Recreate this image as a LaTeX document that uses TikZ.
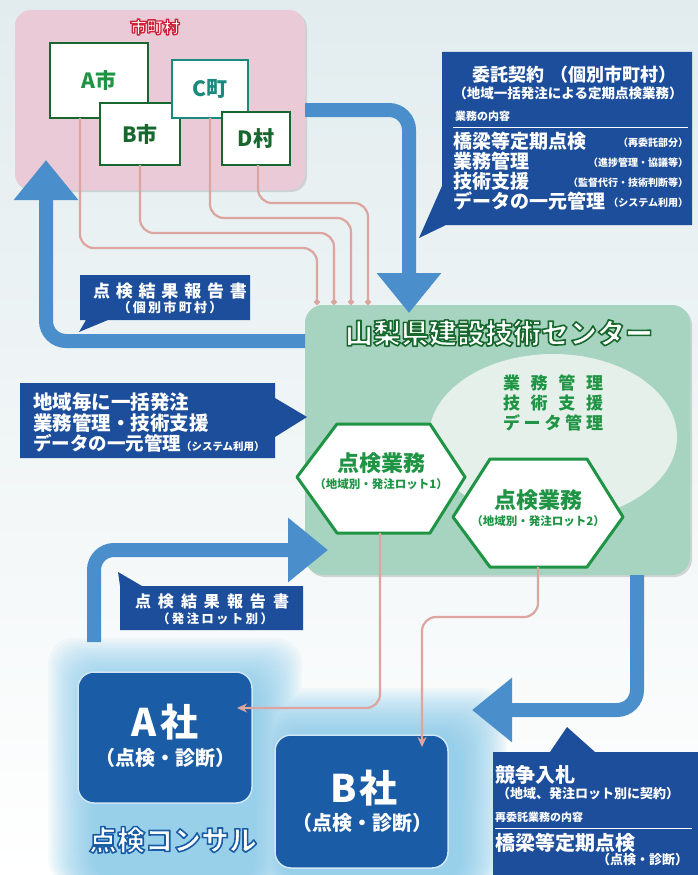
\documentclass[tikz,border=0pt]{standalone}
\usepackage{fontspec}
\setmainfont{Noto Sans CJK JP}
\usetikzlibrary{arrows.meta,shadows,calc}
\definecolor{bgtop}{HTML}{E2ECEE}
\definecolor{pinkbox}{HTML}{EACAD6}
\definecolor{grn}{HTML}{1F9444}
\definecolor{dgrn}{HTML}{17682F}
\definecolor{tealc}{HTML}{1B8A7E}
\definecolor{arrowblue}{HTML}{4A8FCC}
\definecolor{navy}{HTML}{1D4E9B}
\definecolor{ctrgreen}{HTML}{A7D4C1}
\definecolor{ellfill}{HTML}{E4F0E9}
\definecolor{pinkline}{HTML}{DCA59F}
\definecolor{compblue}{HTML}{1A5CA6}
\definecolor{compedge}{HTML}{CFE6F4}
\definecolor{glow}{HTML}{7CC6EA}
\definecolor{munired}{HTML}{D0203A}
\newcommand\fsz[1]{\fontsize{#1}{#1}\selectfont}
% outlined text: #1 stroke width, #2 stroke rgb values, #3 text
\newcommand\olt[3]{{\color{white}\special{pdf:literal direct #1 w 1 j #2 RG 2 Tr}#3\special{pdf:literal direct 0 Tr}}}
\makeatletter
\newcommand\spreadchars[2]{\makebox[#1][s]{\sc@loop#2\@nil}}
\def\sc@loop#1#2\@nil{#1\ifx\relax#2\relax\else\hfil\sc@loop#2\@nil\fi}
\makeatother
\begin{document}
\begin{tikzpicture}[x=1pt,y=-1pt,
  every node/.style={inner sep=0pt, outer sep=0pt},
  tsize/.style={font=\bfseries\fsz{#1}},
  munibox/.style={draw=dgrn, line width=2.6pt, fill=white, tsize=21, text=dgrn},
  bigarrow/.style={draw=arrowblue, line width=14pt, rounded corners=20pt, -{Triangle[length=40pt,width=62pt]}},
  pinkln/.style={draw=pinkline, line width=2.2pt, rounded corners=14pt},
  callout/.style={fill=navy},
  ctext/.style={text=white, tsize=#1},
  hexshape/.style={fill=white, draw=grn, line width=3pt, line join=round},
  company/.style={fill=compblue, draw=compedge, line width=1.5pt, rounded corners=16pt},
]
\useasboundingbox (0,0) rectangle (698,875);
\shade[top color=bgtop, bottom color=white] (0,0) rectangle (698,875);

% glow behind the consultants
\foreach \i in {0,...,19}{
  \fill[glow, opacity=0.065, rounded corners=26pt]
    (48+\i*2.5, 638+\i*2.5) rectangle (302-\i*2.5, 885)
    (238+\i*2.5, 688+\i*2.5) rectangle (507-\i*2.5, 885);
}

% municipalities
\node[fill=pinkbox, rounded corners=16pt, minimum width=290pt, minimum height=180pt,
      drop shadow={opacity=0.25, shadow xshift=2pt, shadow yshift=-2pt}] (muni) at (160,100) {};
\node[tsize=16.5] (munit) at (155,27) {\olt{1.3}{0.82 0.13 0.23}{市町村}};
\node[munibox, minimum width=98pt, minimum height=75pt, text=grn] (A) at (99,80.5) {A市};
\node[munibox, minimum width=80pt, minimum height=62pt] (B) at (140,134) {B市};
\node[munibox, draw=tealc, minimum width=76pt, minimum height=58pt, text=tealc] (C) at (210,89) {C町};
\node[munibox, minimum width=68pt, minimum height=53pt] (D) at (256,138.5) {D村};

% centre
\node[fill=ctrgreen, rounded corners=18pt, minimum width=385pt, minimum height=270pt,
      drop shadow={opacity=0.3, shadow xshift=2pt, shadow yshift=-2pt}] (ctr) at (497.5,440) {};
\fill[ellfill] (553,437) ellipse [x radius=124, y radius=83];
\node[tsize=28] (ctrt) at (499,333) {\olt{1.6}{0.09 0.41 0.18}{山梨県建設技術センター}};
\node[text=grn, align=center, font=\bfseries\fontsize{17}{20}\selectfont] (mgmt) at (553,403)
  {\spreadchars{100pt}{業務管理}\\\spreadchars{100pt}{技術支援}\\\spreadchars{100pt}{データ管理}};

\filldraw[hexshape] (297,477) -- (337,424) -- (430,424) -- (465,477) -- (430,533) -- (337,533) -- cycle;
\node[tsize=22, text=grn] (hex1) at (381,463) {点検業務};
\node[tsize=11.5, text=grn] (hex1s) at (381,484) {（地域別・発注ロット1）};
\filldraw[hexshape] (453,517) -- (490,459) -- (587,459) -- (623,517) -- (587,567) -- (490,567) -- cycle;
\node[tsize=22, text=grn] (hex2) at (538,500) {点検業務};
\node[tsize=11.5, text=grn] (hex2s) at (538,521) {（地域別・発注ロット2）};

% pink report lines municipalities -> centre
\coordinate (la) at (80,0);  \coordinate (ea) at (317,0);
\coordinate (lb) at (140,0); \coordinate (eb) at (334,0);
\coordinate (lc) at (210,0); \coordinate (ec) at (351,0);
\coordinate (ld) at (258,0); \coordinate (ed) at (368,0);
\draw[pinkln, -{Circle[length=6pt]}] (A.south -| la) -- (80,248) -- (317,248) -- (ctr.north -| ea);
\draw[pinkln, -{Circle[length=6pt]}] (B.south -| lb) -- (140,233) -- (334,233) -- (ctr.north -| eb);
\draw[pinkln, -{Circle[length=6pt]}] (C.south -| lc) -- (210,218) -- (351,218) -- (ctr.north -| ec);
\draw[pinkln, -{Circle[length=6pt]}] (D.south -| ld) -- (258,203) -- (368,203) -- (ctr.north -| ed);

% blue arrows
\coordinate (ta) at (409,0);
\coordinate (ya) at (0,110);
\draw[bigarrow, shorten >=-8pt] (muni.east |- ya) -- (409,110) -- (ctr.north -| ta);
\coordinate (yb) at (0,341);
\coordinate (tb) at (46,0);
\draw[bigarrow, shorten >=-30pt] (ctr.west |- yb) -- (46,341) -- (muni.south -| tb);
\coordinate (sc) at (94,642);
\coordinate (yc) at (0,550);
\draw[bigarrow, shorten >=-23pt] (sc) -- (94,550) -- (ctr.west |- yc);
\coordinate (td) at (637,0);
\coordinate (ed2) at (472,710);
\draw[bigarrow] (ctr.south -| td) -- (637,710) -- (ed2);

% callout: contract
\fill[callout] (442,52) -- (692,52) -- (692,225) -- (446,225) -- (419,238) -- (442,186) -- cycle;
\node[ctext=18] (c1t) at (574,75) {委託契約\hspace{6pt}（個別市町村）};
\node[ctext=13.5] (c1s) at (568,93) {（地域一括発注による定期点検業務）};
\node[ctext=11, anchor=west] (c1h) at (455,116) {業務の内容};
\draw[white, line width=1pt] (453,127) -- (688,127);
\node[ctext=19, anchor=west] (r1) at (453,141) {橋梁等定期点検};
\node[ctext=10, anchor=east] (r1s) at (688,143) {（再委託部分）};
\node[ctext=19, anchor=west] (r2) at (453,161) {業務管理};
\node[ctext=10, anchor=east] (r2s) at (688,163) {（進捗管理・協議等）};
\node[ctext=19, anchor=west] (r3) at (453,181) {技術支援};
\node[ctext=10, anchor=east] (r3s) at (688,183) {（監督代行・技術判断等）};
\node[ctext=19, anchor=west] (r4) at (453,201) {データの一元管理};
\node[ctext=10, anchor=east] (r4s) at (688,203) {（システム利用）};

% callout: report to municipalities
\fill[callout] (80,275) -- (250,275) -- (250,320) -- (108,320) -- (79,332) -- (86,320) -- (80,320) -- cycle;
\node[ctext=17] (rep1) at (170,291) {\spreadchars{154pt}{点検結果報告書}};
\node[ctext=13] (rep1s) at (170,308) {\spreadchars{105pt}{（個別市町村）}};

% callout: regional ordering
\fill[callout] (20,383) -- (275,383) -- (275,398) -- (307,417) -- (275,437) -- (275,458) -- (20,458) -- cycle;
\node[ctext=19.5, anchor=west] (g1) at (33,402) {地域毎に一括発注};
\node[ctext=19.5, anchor=west] (g2) at (33,423) {業務管理・技術支援};
\node[ctext=18.5, anchor=west] (g3) at (33,443) {データの一元管理{\fsz{10.5}（システム利用）}};

% callout: report by lot
\fill[callout] (118,572) -- (142,586) -- (303,586) -- (303,630) -- (120,630) -- (120,586) -- cycle;
\node[ctext=16] (rep2) at (212,601) {\spreadchars{154pt}{点検結果報告書}};
\node[ctext=12.5] (rep2s) at (215,619) {\spreadchars{116pt}{（発注ロット別）}};

% consultants
\node[company, minimum width=174pt, minimum height=131pt] (coA) at (165,737.5) {};
\node[ctext=38] (coAt) at (165,722) {A\hspace{3pt}社};
\node[ctext=20] (coAs) at (165,758) {（点検・診断）};
\node[company, minimum width=173pt, minimum height=133pt] (coB) at (361.5,801.5) {};
\node[ctext=38] (coBt) at (364,788) {B\hspace{3pt}社};
\node[ctext=20] (coBs) at (362,823) {（点検・診断）};
\node[tsize=28] (consul) at (173,840) {\olt{1.6}{0.10 0.36 0.65}{点検コンサル}};

% pink lines centre -> consultants
\coordinate (h1b) at (380,533);
\coordinate (y1) at (0,708);
\draw[pinkln, shorten >=-15pt, -{Stealth[length=10pt,width=9pt]}] (h1b) -- (380,708) -- (coA.east |- y1);
\coordinate (h2b) at (538,567);
\coordinate (x2) at (422,0);
\draw[pinkln, shorten >=-12pt, -{Stealth[length=10pt,width=9pt]}] (h2b) -- (538,617) -- (422,617) -- (coB.north -| x2);

% callout: competitive bidding
\fill[callout] (493,752) -- (550,752) -- (567,727) -- (595,752) -- (698,752) -- (698,875) -- (493,875) -- cycle;
\node[ctext=20, anchor=west] (b1) at (495,775) {競争入札};
\node[ctext=13, anchor=west] (b2) at (497,794) {（地域、発注ロット別に契約）};
\node[ctext=11, anchor=west] (b3) at (495,817) {再委託業務の内容};
\draw[white, line width=1pt] (495,828) -- (692,828);
\node[ctext=20, anchor=west] (b4) at (495,843) {橋梁等定期点検};
\node[ctext=13, anchor=east] (b5) at (688,860) {（点検・診断）};
\end{tikzpicture}
\end{document}
